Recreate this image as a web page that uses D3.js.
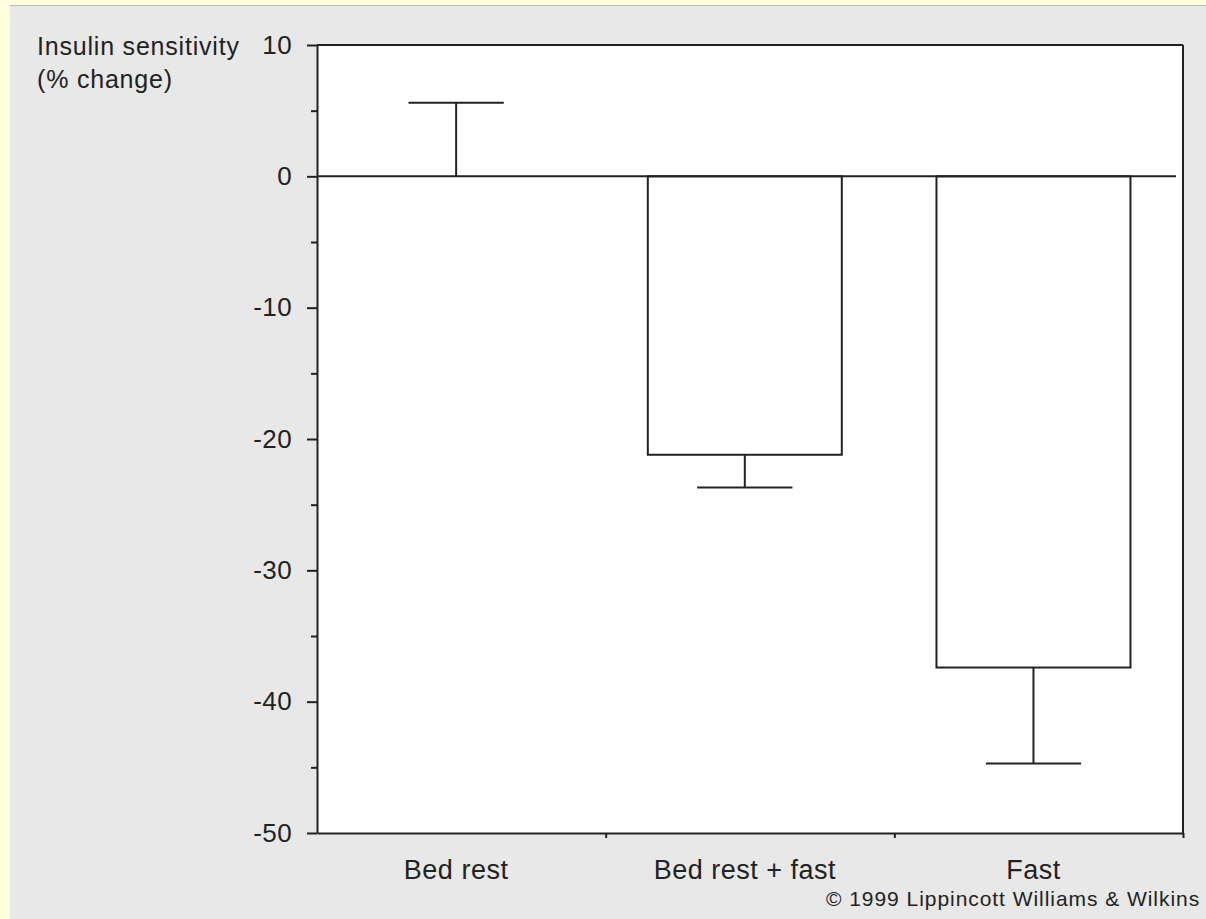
<!DOCTYPE html>
<html>
<head>
<meta charset="utf-8">
<script src="https://cdn.jsdelivr.net/npm/d3@7"></script>
<style>
  body { margin: 0; background: #ffffe0; }
  svg { display: block; }
  text { font-family: "Liberation Sans", Arial, Helvetica, sans-serif; fill: #222; }
</style>
</head>
<body>
<div id="chart"></div>
<script>
var categories = ["Bed rest", "Bed rest + fast", "Fast"];
var means = [0, -21.2, -37.4];
var errors = [5.6, 2.5, 7.3];
var majorTicks = [10, 0, -10, -20, -30, -40, -50];
var minorTicks = [5, -5, -15, -25, -35, -45];

var width = 1206;
var height = 919;
var margin = { top: 45, right: 23, bottom: 86, left: 317 };

var svg = d3.select("#chart")
  .append("svg")
  .attr("width", width)
  .attr("height", height);

// grey panel with pale yellow edges
svg.append("rect")
  .attr("x", 10).attr("y", 5)
  .attr("width", width - 10).attr("height", height - 5)
  .attr("fill", "#e8e8e8");
svg.append("line")
  .attr("x1", 10).attr("x2", width)
  .attr("y1", 5.5).attr("y2", 5.5)
  .attr("stroke", "#b8b8b8");

var y = d3.scaleLinear()
  .domain([10, -50])
  .range([margin.top, height - margin.bottom]);

var x = d3.scaleBand()
  .domain(categories)
  .range([margin.left, width - margin.right]);

var xb = d3.scaleLinear()
  .domain([0, categories.length])
  .range([margin.left, width - margin.right]);

var bw = x.bandwidth();
var barOff = 0.146 * bw;
var barW = 0.672 * bw;
var capW = 0.33 * bw;
function cx(c) { return x(c) + barOff + barW / 2; }

// plot area
svg.append("rect")
  .attr("x", margin.left).attr("y", margin.top)
  .attr("width", width - margin.right - margin.left)
  .attr("height", y(-50) - margin.top)
  .attr("fill", "#fff");

var ink = "#222";
var sw = 2;

// bars
svg.selectAll("rect.bar")
  .data(categories)
  .join("rect")
  .attr("class", "bar")
  .attr("x", (d) => x(d) + barOff)
  .attr("y", y(0))
  .attr("width", barW)
  .attr("height", (d, i) => y(means[i]) - y(0))
  .attr("fill", "none")
  .attr("stroke", ink)
  .attr("stroke-width", sw);

// error bars, drawn away from zero
function errEnd(i) {
  return means[i] < 0 ? means[i] - errors[i] : means[i] + errors[i];
}
svg.selectAll("line.err")
  .data(categories)
  .join("line")
  .attr("class", "err")
  .attr("x1", cx).attr("x2", cx)
  .attr("y1", (d, i) => y(means[i]))
  .attr("y2", (d, i) => y(errEnd(i)))
  .attr("stroke", ink).attr("stroke-width", sw);
svg.selectAll("line.cap")
  .data(categories)
  .join("line")
  .attr("class", "cap")
  .attr("x1", (d) => cx(d) - capW / 2)
  .attr("x2", (d) => cx(d) + capW / 2)
  .attr("y1", (d, i) => y(errEnd(i)))
  .attr("y2", (d, i) => y(errEnd(i)))
  .attr("stroke", ink).attr("stroke-width", sw);

// zero line
svg.append("line")
  .attr("x1", margin.left).attr("x2", width - margin.right - 7)
  .attr("y1", y(0)).attr("y2", y(0))
  .attr("stroke", ink).attr("stroke-width", sw);

// frame top and right
svg.append("line")
  .attr("x1", margin.left).attr("x2", width - margin.right)
  .attr("y1", margin.top).attr("y2", margin.top)
  .attr("stroke", ink).attr("stroke-width", sw);
svg.append("line")
  .attr("x1", width - margin.right).attr("x2", width - margin.right)
  .attr("y1", margin.top).attr("y2", y(-50))
  .attr("stroke", ink).attr("stroke-width", sw);

// y axis
var yAxis = svg.append("g")
  .attr("transform", `translate(${margin.left},0)`)
  .call(d3.axisLeft(y).tickValues(majorTicks).tickSize(10).tickPadding(15)
    .tickFormat((d) => String(d)).tickSizeOuter(0));
yAxis.select(".domain").attr("stroke", ink).attr("stroke-width", sw);
yAxis.selectAll(".tick line").attr("stroke", ink).attr("stroke-width", sw);
yAxis.selectAll(".tick text")
  .style("font-size", "26px")
  .style("letter-spacing", "0.4px")
  .style("font-family", "'Liberation Sans', Arial, sans-serif")
  .attr("fill", ink);

var yMinor = svg.append("g")
  .attr("transform", `translate(${margin.left},0)`)
  .call(d3.axisLeft(y).tickValues(minorTicks).tickSize(6).tickFormat("").tickSizeOuter(0));
yMinor.select(".domain").remove();
yMinor.selectAll(".tick line").attr("stroke", ink).attr("stroke-width", sw);

// x axis
var xAxis = svg.append("g")
  .attr("transform", `translate(0,${y(-50)})`)
  .call(d3.axisBottom(xb).tickValues([1, 2, 3]).tickSize(5).tickFormat("").tickSizeOuter(0));
xAxis.select(".domain").attr("stroke", ink).attr("stroke-width", sw);
xAxis.selectAll(".tick line").attr("stroke", ink).attr("stroke-width", sw);

svg.selectAll("text.cat")
  .data(categories)
  .join("text")
  .attr("class", "cat")
  .attr("x", cx)
  .attr("y", 879)
  .attr("text-anchor", "middle")
  .style("font-size", "27px")
  .style("letter-spacing", "0.5px")
  .text((d) => d);

// axis title
var title = svg.append("text")
  .attr("x", 37)
  .attr("y", 55)
  .style("font-size", "25px")
  .style("letter-spacing", "0.8px");
title.append("tspan").attr("x", 37).text("Insulin sensitivity");
title.append("tspan").attr("x", 37).attr("dy", 33).text("(% change)");

// copyright
svg.append("text")
  .attr("x", 826)
  .attr("y", 906)
  .style("font-size", "21px")
  .style("letter-spacing", "0.95px")
  .text("\u00a9 1999 Lippincott Williams & Wilkins");
</script>
</body>
</html>
